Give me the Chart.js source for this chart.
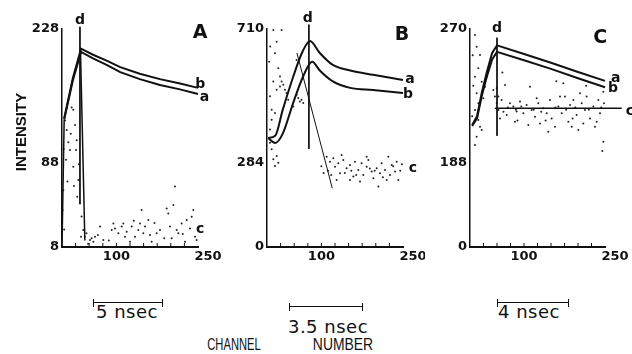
<!DOCTYPE html>
<html>
<head>
<meta charset="utf-8">
<script src="https://cdn.jsdelivr.net/npm/chart.js@4.4.0/dist/chart.umd.min.js"></script>
<style>
  body { margin: 0; background: #fff; }
  #wrap { position: relative; width: 632px; height: 354px; overflow: hidden; color: #111;
          font-family: "Liberation Sans", Arial, sans-serif; }
  canvas { position: absolute; top: 0; }
  .txt { position: absolute; text-align: center; white-space: nowrap; }
  .ns { font-family: "DejaVu Sans", sans-serif; font-size: 18px; letter-spacing: 0.5px; width: 120px; line-height: 20px; }
  .cap { width: 100px; line-height: 18px; font-size: 16px; }
  .bar { position: absolute; height: 8px; box-sizing: border-box;
         border-left: 1.5px solid #111; border-right: 1.5px solid #111; }
  .bar::after { content: ''; position: absolute; left: 0; right: 0; top: 3px; border-top: 1.5px solid #111; }
</style>
</head>
<body>
<div id="wrap">
  <canvas id="pA" width="222" height="280" style="left:0px"></canvas>
  <canvas id="pB" width="200" height="280" style="left:225px"></canvas>
  <canvas id="pC" width="204" height="280" style="left:428px"></canvas>

  <div class="txt" style="left:-29px;top:124px;width:100px;line-height:16px;font-weight:bold;font-size:15px;transform:rotate(-90deg)">INTENSITY</div>

  <div class="bar" style="left:93px;top:299px;width:70px"></div>
  <div class="txt ns" style="left:67px;top:302px">5 nsec</div>
  <div class="bar" style="left:289px;top:303px;width:74px"></div>
  <div class="txt ns" style="left:268px;top:317px">3.5 nsec</div>
  <div class="bar" style="left:497px;top:299px;width:72px"></div>
  <div class="txt ns" style="left:469px;top:302px">4 nsec</div>

  <div class="txt cap" style="left:184px;top:336px;transform:scaleX(0.7)">CHANNEL</div>
  <div class="txt cap" style="left:293px;top:336px;transform:scaleX(0.87)">NUMBER</div>
</div>

<script>
// ================= Data =================
// y positions are in percent of the axis height (the original axes are not linear)
const yTickPos = [0, 38.5, 100];
const aTickLabels = ['8', '88', '228'];
const bTickLabels = ['0', '284', '710'];
const cTickLabels = ['0', '188', '270'];
const xMinor = [25, 50, 75, 100, 125, 150, 175, 200, 225];
const xLabels = ['100', '250'];
const xLabelAt = [100, 250];

// panel A
const aFitX = [4, 20, 35, 57, 82, 107, 143, 180, 217, 250];
const aCurveA = [58.5, 76.5, 89.5, 86.5, 83.5, 80.2, 77, 74.3, 72.3, 70.2];
const aCurveB = [59, 77.5, 91, 88.2, 85.5, 82.5, 79.5, 77, 75, 73];
const aRiseX = [0, 4];
const aRiseY = [0, 58.5];
const aFallX = [34, 42];
const aFallY = [90, 3];
const aMarkX = [33, 33];
const aMarkY = [101, 20];
const aDots = [
  [5.5,58],[8.6,53.7],[11.6,48],[14.7,44.5],[7.4,40],[17.8,64],[20.8,63],[24,56],[27,49],[25.7,44.5],
  [20.8,36.8],[30,30.7],[28,23],[33,20],[36,14],[35,4.7],[2.5,26],[1.2,17],[3,45],[10,30],[16,52],
  [31,38],[22,28],[4,8],
  [39,7.8],[42,4.7],[45,6.3],[48,1.5],[51.5,3.2],[54.5,4],[57.6,2.4],[60.7,4.7],[66,5.5],[70,9.4],[76,3.2],
  [86,3],[91.3,7.8],[94.4,10.8],[97.4,8.5],[103.6,6.3],[109.7,9.4],[112.7,10.8],[115.8,4.7],[118.9,7],
  [125,2.4],[128.1,9.4],[132,12],[134.2,4.7],[140.3,7.8],[143.4,10.8],[146.4,17],[149.5,6.3],[152.6,9.4],
  [158.7,12.4],[161.8,5.5],[164.8,2.4],[170,11],[174,6.3],[180.1,7.8],[188,4],[192.4,17.7],[195.4,15.4],
  [198.5,9.4],[201.6,4],[204.7,19.3],[207.7,27.7],[210.8,7.8],[213.8,6.3],[220,10.8],[222,6],[226.1,2.4],
  [229.2,12.4],[235.3,8.5],[238.4,13.9],[241.4,17],[244.5,4.7],[247.5,3.2]
];

// panel B
const bFitXa = [2, 15, 29, 48, 66, 79, 97, 121, 153, 195, 250];
const bCurveA = [50, 51, 63, 78, 90, 94.5, 89, 83.5, 81, 79, 76.6];
const bFitXb = [2, 15, 29, 48, 66, 83, 97, 121, 153, 195, 250];
const bCurveB = [50, 47.7, 52, 66, 78, 85, 81, 76, 73, 72, 70.6];
const bSlopeX = [55, 120];
const bSlopeY = [89, 27];
const bMarkX = [77, 77];
const bMarkY = [102, 45];
const bDots = [
  [11.6,99.5],[17.8,94.2],[26.9,99.5],[14.7,88.9],[20.8,82],[11.6,75.9],[17.8,72.1],[23.9,78.2],[26.9,75.9],
  [30,74.4],[5.5,69.1],[8.6,63],[14.7,61.5],[23.9,73.6],[33,72.1],[36,70.6],[39,67.6],[54.3,69.8],[57.4,68.3],
  [60.4,66.8],[63.5,67.6],[66.6,66.1],[48.2,64.5],[8.6,58.4],[5.5,53.9],[5.5,47.8],[8.6,44.8],[11.6,40.2],
  [14.7,37.2],[17.8,41.7],[20.8,38.7],[54.3,85.8],[4,85],[6,92],
  [100,37],[104,34],[109.7,41.4],[112,35],[115.8,39.1],[118,33],[121.9,40.7],[125,36.8],[128,30.7],[131.1,38.4],
  [134.2,33.8],[137.2,42.2],[140.3,39.9],[143,34],[146.4,36.1],[152.6,37.6],[152.6,30.7],[155,35],[158.7,32.3],
  [161.8,39.1],[164,33],[167.9,35.3],[171,30],[174,38.4],[177.1,33],[183.2,36.8],[183.2,41.4],[186.3,39.9],
  [189,36],[192.4,34.6],[195.5,31.5],[198,35],[201.6,36.1],[204.7,27.7],[207.7,33.8],[210.8,38.4],[213,32],
  [216.9,35.3],[220,30.7],[223,41.4],[226.1,33],[229.2,37.6],[232,37],[235.3,34.6],[238.4,39.1],[241.4,30.7],
  [245,35],[248,38]
];

// panel C
const cFitX = [4, 13, 22, 31, 41, 50, 100, 150, 200, 250];
const cCurveA = [56, 60, 71, 80, 89, 92.5, 88.5, 84.5, 80.3, 76.2];
const cCurveB = [55.5, 59, 69.5, 78, 86, 89.5, 85.7, 81.7, 77.4, 73.3];
const cBaseX = [46, 281];
const cBaseY = [63.6, 63.6];
const cMarkX = [50, 50];
const cMarkY = [96, 51];
const cDots = [
  [9.3,97.3],[12.3,91.9],[18.5,88.1],[15.4,82],[9.3,78.1],[21.6,75.8],[12.3,70.5],[15.4,65.9],[24.7,68.2],
  [27.8,73.5],[30.9,78.1],[34,82],[9.3,62.9],[15.4,58.3],[18.5,55.2],[12.3,50.6],[9.3,46.8],[21.6,53.7],
  [37,84.3],[40.1,85.8],[43.2,72],[46.3,69],[49.4,65.9],[52.5,62.9],[5,88],[6,74],[4,60],
  [49.4,72.8],[52.5,69],[55.6,59],[58.6,67.4],[60,80],[62,62],[64.8,74.3],[67.9,60.6],[70,64],[74.1,65.9],
  [80.2,64.4],[83.3,57.5],[85,63],[86.4,62.1],[88,58],[92.6,66.7],[95,64.5],[98.8,61.3],[104.9,65.1],[108,56],
  [111.1,73.5],[114.2,62.9],[118,63],[120.4,59.8],[123.5,68.2],[126.5,65.9],[129.6,56.7],[132,62],[135.8,63.6],
  [140,58],[142,61.3],[145,52.9],[148.1,67.4],[151.2,59],[157.4,55.2],[158,64],[160,76],[163.6,64.4],
  [166.7,69],[169.8,61.3],[172.8,75.1],[175.9,69],[178,63],[182.1,57.5],[185.2,65.1],[188.3,55.2],[190,59],
  [191.4,67.4],[195,64],[197.5,60.6],[200.6,53.7],[203.7,70.5],[206.8,65.9],[209.9,56.7],[212.9,62.9],
  [215,74],[216,69],[220,63],[222.2,59],[228.4,64.4],[231.5,55.2],[234.6,57.5],[237.7,67.4],[240.7,61.3],
  [243,64],[245,44],[246.9,71.2],[246.9,48.3],[248,65.9]
];

// ================= Helpers =================
const INK = '#111';

function line(xs, ys, width, tension) {
  return {
    data: xs.map((x, i) => ({ x, y: ys[i] })),
    showLine: true, borderColor: INK, borderWidth: width,
    pointRadius: 0, tension: tension || 0, clip: false,
    cubicInterpolationMode: tension ? 'monotone' : 'default'
  };
}

function dots(pairs) {
  return {
    data: pairs.map(p => ({ x: p[0], y: p[1] })),
    showLine: false, pointRadius: 1, backgroundColor: '#222', borderWidth: 0, clip: false
  };
}

// inward x ticks, x labels and the letters a, b, c, d
const panelDecor = {
  id: 'panelDecor',
  afterDraw(chart, args, opts) {
    const { ctx, scales: { x, y } } = chart;
    ctx.save();
    ctx.strokeStyle = INK;
    ctx.lineWidth = 1;
    xMinor.forEach(v => {
      const px = x.getPixelForValue(v);
      ctx.beginPath();
      ctx.moveTo(px, y.bottom);
      ctx.lineTo(px, y.bottom - 4);
      ctx.stroke();
    });
    ctx.fillStyle = INK;
    ctx.textAlign = 'center';
    ctx.textBaseline = 'middle';
    ctx.font = 'bold 13px "DejaVu Sans"';
    xLabels.forEach((t, i) => {
      const shift = xLabelAt[i] === 250 ? 10 : 0;
      ctx.fillText(t, x.getPixelForValue(xLabelAt[i]) + shift, y.bottom + 10);
    });
    (opts.notes || []).forEach(n => {
      ctx.font = 'bold ' + (n.size || 14) + 'px "DejaVu Sans"';
      ctx.fillText(n.t, x.getPixelForValue(n.x), y.getPixelForValue(n.y));
    });
    ctx.restore();
  }
};

function makePanel(id, axisW, padRight, tickLabels, datasets, notes) {
  new Chart(document.getElementById(id), {
    type: 'scatter',
    data: { datasets },
    plugins: [panelDecor],
    options: {
      responsive: false, animation: false, devicePixelRatio: 1,
      layout: { padding: { top: 29, right: padRight, bottom: 8, left: 0 } },
      plugins: { legend: { display: false }, tooltip: { enabled: false }, panelDecor: { notes } },
      scales: {
        x: {
          type: 'linear', min: 0, max: 250,
          grid: { display: false, drawTicks: false },
          border: { color: INK, width: 2 },
          ticks: { display: false },
          afterFit: s => { s.height = 25; }
        },
        y: {
          type: 'linear', min: 0, max: 100,
          grid: { display: false, drawTicks: false },
          border: { color: INK, width: 1.5 },
          afterBuildTicks: s => { s.ticks = yTickPos.map(v => ({ value: v })); },
          ticks: {
            padding: 3, color: INK, font: { family: 'DejaVu Sans', weight: 'bold', size: 13 },
            callback: (v, i) => tickLabels[i]
          },
          afterFit: s => { s.width = axisW; }
        }
      }
    }
  });
}

// ================= Panels =================
makePanel('pA', 62, 24, aTickLabels, [
  line(aFitX, aCurveA, 2),
  line(aFitX, aCurveB, 2),
  line(aRiseX, aRiseY, 1.5),
  line(aFallX, aFallY, 1.5),
  line(aMarkX, aMarkY, 1),
  dots(aDots)
], [
  { t: 'A', x: 254, y: 98, size: 19 },
  { t: 'b', x: 254, y: 74.5 },
  { t: 'a', x: 262, y: 68.5 },
  { t: 'c', x: 254, y: 8 },
  { t: 'd', x: 33, y: 104 }
]);

makePanel('pB', 42, 22, bTickLabels, [
  line(bFitXa, bCurveA, 2, 0.4),
  line(bFitXb, bCurveB, 2, 0.4),
  line(bSlopeX, bSlopeY, 1),
  line(bMarkX, bMarkY, 1),
  dots(bDots)
], [
  { t: 'B', x: 248, y: 97, size: 19 },
  { t: 'a', x: 263, y: 77 },
  { t: 'b', x: 259, y: 70 },
  { t: 'c', x: 268, y: 36 },
  { t: 'd', x: 75, y: 105 }
]);

makePanel('pC', 42, 27, cTickLabels, [
  line(cFitX, cCurveA, 2),
  line(cFitX, cCurveB, 2),
  line(cBaseX, cBaseY, 1.5),
  line(cMarkX, cMarkY, 1),
  dots(cDots)
], [
  { t: 'C', x: 241, y: 96, size: 19 },
  { t: 'a', x: 270, y: 77.5 },
  { t: 'b', x: 265, y: 73 },
  { t: 'c', x: 296, y: 62.4 },
  { t: 'd', x: 50, y: 100.5 }
]);
</script>
</body>
</html>
